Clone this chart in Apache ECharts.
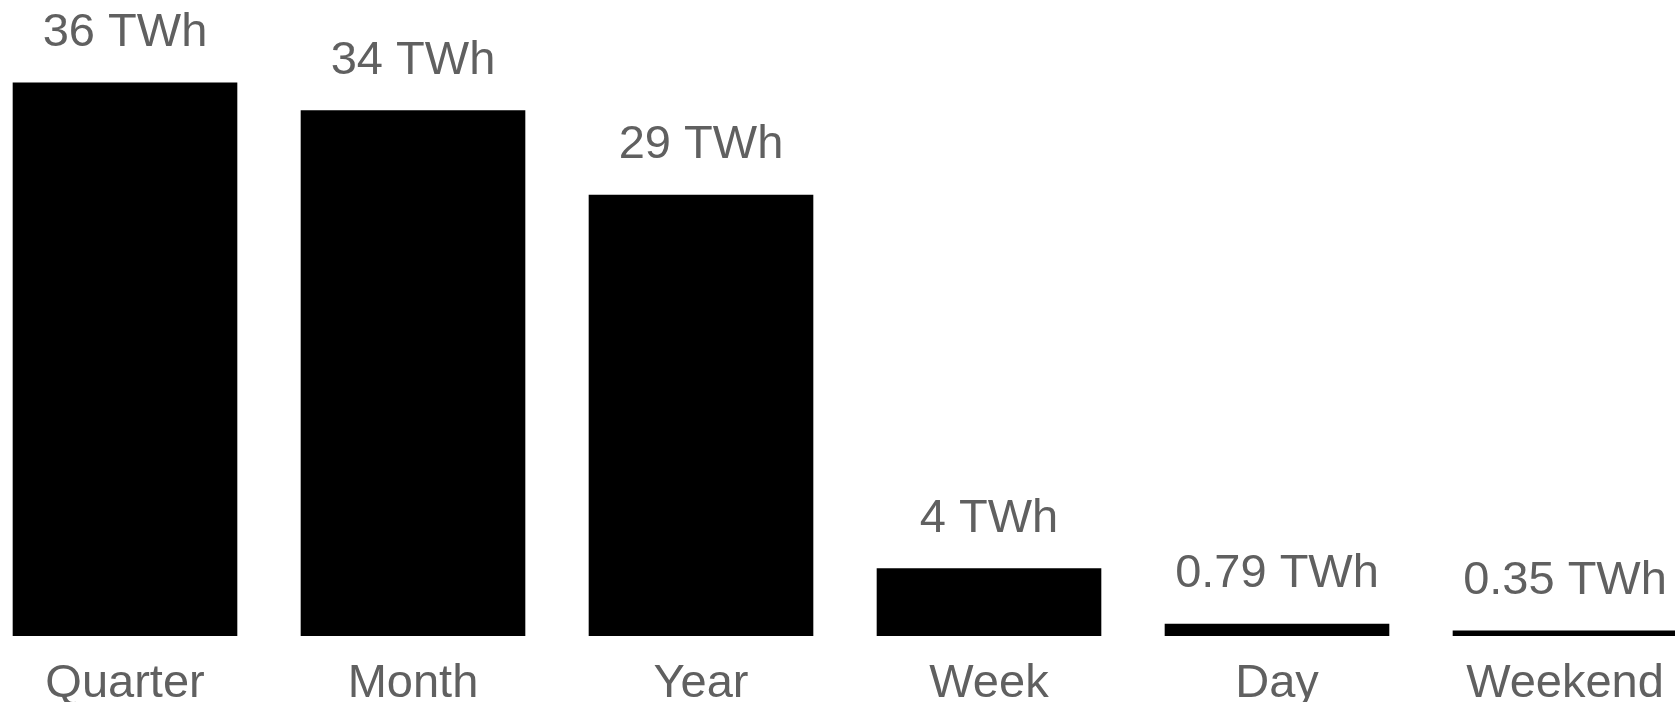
<!DOCTYPE html>
<html>
<head>
<meta charset="utf-8">
<script src="https://cdn.jsdelivr.net/npm/echarts@6/dist/echarts.min.js"></script>
<style>
  html, body { margin: 0; padding: 0; width: 1675px; height: 702px; overflow: hidden; background: #ffffff; position: relative; }
  #chart { position: absolute; left: -19px; top: 0; width: 1728px; height: 702px; }
</style>
</head>
<body>
<div id="chart"></div>
<script>
// Energy by contract period (TWh)
const categories = ['Quarter', 'Month', 'Year', 'Week', 'Day', 'Weekend'];
const energyTWh = [36, 34.2, 28.7, 4.4, 0.79, 0.35];
const unit = 'TWh';

function formatEnergy(v) {
  return (v >= 1 ? Math.round(v).toString() : v.toFixed(2)) + ' ' + unit;
}

const textColor = '#606060';
const fontFamily = '"Liberation Sans", Arial, Helvetica, sans-serif';

const chart = echarts.init(document.getElementById('chart'), null, { renderer: 'canvas' });
chart.setOption({
  animation: false,
  backgroundColor: '#ffffff',
  grid: { left: 0, right: 0, top: 21, bottom: 66, containLabel: false, outerBoundsMode: 'none' },
  xAxis: {
    type: 'category',
    data: categories,
    axisLine: { show: false },
    axisTick: { show: false },
    axisLabel: {
      color: textColor,
      fontFamily: fontFamily,
      fontSize: 47,
      margin: 25,
      interval: 0
    }
  },
  yAxis: {
    type: 'value',
    min: 0,
    max: 40,
    show: false,
    splitLine: { show: false }
  },
  series: [
    {
      type: 'bar',
      data: energyTWh,
      barCategoryGap: '22%',
      itemStyle: { color: '#000000' },
      label: {
        show: true,
        position: 'top',
        distance: 26,
        color: textColor,
        fontFamily: fontFamily,
        fontSize: 47,
        formatter: p => formatEnergy(p.value)
      }
    }
  ]
});
</script>
</body>
</html>
